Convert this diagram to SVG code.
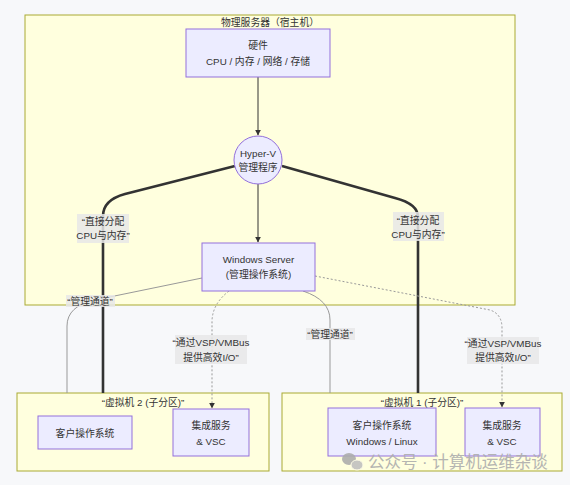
<svg xmlns="http://www.w3.org/2000/svg" width="570" height="485" viewBox="0 0 570 485">
<style>
text{font-family:"Liberation Sans","Noto Sans CJK SC",sans-serif;font-size:9.8px;fill:#333;text-anchor:middle;dominant-baseline:central}
.cl{fill:#ffffde;stroke:#aaaa33;stroke-width:1}
.nd{fill:#ececff;stroke:#9370db;stroke-width:1}
.thin{fill:none;stroke:#333;stroke-width:1}
.thick{fill:none;stroke:#333;stroke-width:2.6}
.mg{fill:none;stroke:#999;stroke-width:1}
.dot{fill:none;stroke:#999;stroke-width:1;stroke-dasharray:2 2}
.lb{fill:#e8e8e8;opacity:0.85}
.wm{font-size:16.5px;fill:#adadad;text-anchor:start}
</style>
<defs>
<marker id="ah" viewBox="0 0 10 10" refX="9" refY="5" markerWidth="6" markerHeight="6" orient="auto" markerUnits="userSpaceOnUse">
<path d="M0,0 L10,5 L0,10 z" fill="#333"/>
</marker>
</defs>
<rect x="0" y="0" width="570" height="485" fill="#f7f8fa"/>

<g id="host">
<rect class="cl" x="25" y="15" width="490" height="290"/>
<text x="270" y="22">物理服务器（宿主机）</text>
</g>
<g id="vm2">
<rect class="cl" x="17" y="393" width="252" height="78"/>
<text x="143" y="402">“虚拟机 2 (子分区)”</text>
</g>
<g id="vm1">
<rect class="cl" x="282" y="393" width="280" height="78"/>
<text x="422" y="402">“虚拟机 1 (子分区)”</text>
</g>

<g id="edges">
<path class="thin" d="M258,77 L258,135" marker-end="url(#ah)"/>
<path class="thin" d="M258,184 L258,242" marker-end="url(#ah)"/>
<path class="thick" d="M235,166 L125,194 Q103,200 103,216 L103,393"/>
<path class="thick" d="M282,166 L395,198 Q418,204 418,217 L418,393"/>
<path class="mg" d="M202,278 L95,300 Q67,306 67,326 L67,393"/>
<path class="mg" d="M303,291 Q330,300 330,320 L330,393"/>
<path class="dot" d="M229,291 Q212,304 212,322 L212,408" marker-end="url(#ah)"/>
<path class="dot" d="M315,276 L490,310 Q502,314 502,328 L502,407" marker-end="url(#ah)"/>
</g>

<g id="labels">
<rect class="lb" x="77" y="214" width="52" height="29"/>
<text x="103" y="221">“直接分配</text>
<text x="103" y="235">CPU与内存”</text>
<rect class="lb" x="393" y="212" width="51" height="29"/>
<text x="418" y="220">“直接分配</text>
<text x="418" y="234">CPU与内存”</text>
<rect class="lb" x="66" y="295" width="49" height="12"/>
<text x="90" y="301">“管理通道”</text>
<rect class="lb" x="306" y="328" width="49" height="12"/>
<text x="330" y="334">“管理通道”</text>
<rect class="lb" x="175" y="335" width="72" height="29"/>
<text x="211" y="342">“通过VSP/VMBus</text>
<text x="211" y="357">提供高效I/O”</text>
<rect class="lb" x="467" y="337" width="72" height="27"/>
<text x="503" y="343">“通过VSP/VMBus</text>
<text x="503" y="357">提供高效I/O”</text>
</g>

<g id="hardware">
<rect class="nd" x="186" y="29" width="144" height="48"/>
<text x="258" y="45">硬件</text>
<text x="258" y="61">CPU / 内存 / 网络 / 存储</text>
</g>
<g id="hyperv">
<circle class="nd" cx="258" cy="160" r="24"/>
<text x="258" y="153">Hyper-V</text>
<text x="258" y="167">管理程序</text>
</g>
<g id="winserver">
<rect class="nd" x="202" y="243" width="113" height="48"/>
<text x="258.5" y="259">Windows Server</text>
<text x="258.5" y="274">(管理操作系统)</text>
</g>
<g id="vm2os">
<rect class="nd" x="38" y="416" width="94" height="33"/>
<text x="85" y="433">客户操作系统</text>
</g>
<g id="vm2int">
<rect class="nd" x="173" y="409" width="76" height="47"/>
<text x="211" y="425">集成服务</text>
<text x="211" y="441">&amp; VSC</text>
</g>
<g id="vm1os">
<rect class="nd" x="328" y="408" width="108" height="48"/>
<text x="382" y="425">客户操作系统</text>
<text x="382" y="441">Windows / Linux</text>
</g>
<g id="vm1int">
<rect class="nd" x="465" y="408" width="75" height="48"/>
<text x="502" y="425">集成服务</text>
<text x="502" y="441">&amp; VSC</text>
</g>

<g id="watermark" opacity="0.9">
<ellipse cx="349" cy="459" rx="7" ry="6" fill="#adadad"/>
<ellipse cx="357" cy="465" rx="6" ry="5" fill="#c0c0c0" stroke="#fffde8" stroke-width="1"/>
<text class="wm" x="368" y="462">公众号 · 计算机运维杂谈</text>
</g>
</svg>
